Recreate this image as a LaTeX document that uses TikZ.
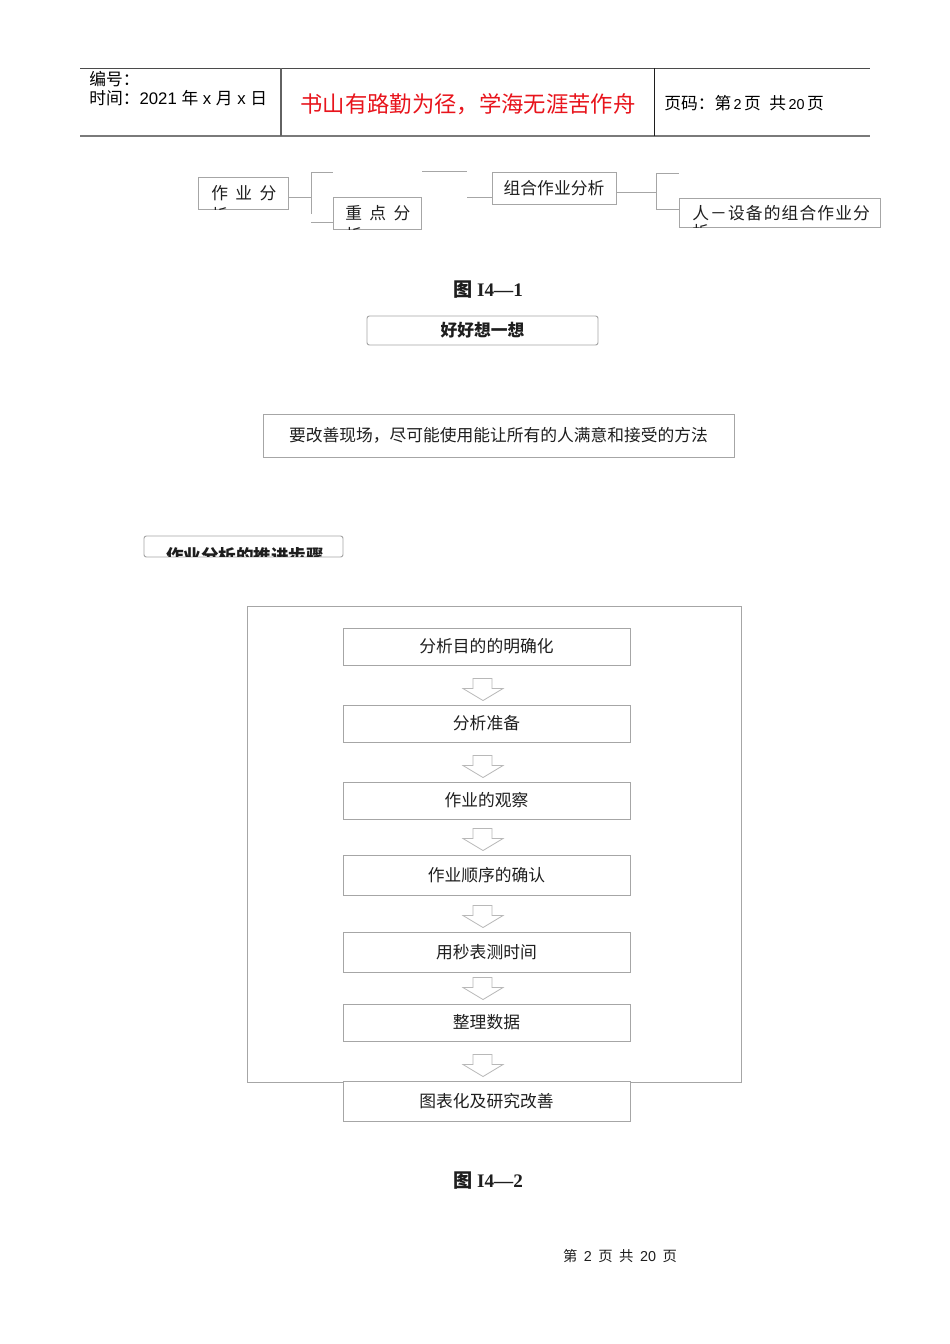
\documentclass[tikz,border=0pt]{standalone}
\usepackage{fontspec}
\setmainfont{Liberation Serif}
\setsansfont{Liberation Sans}
\newfontfamily\cjk{Noto Sans CJK SC}
\usetikzlibrary{calc,positioning}

\definecolor{framegray}{HTML}{A6A6A6}
\definecolor{arrowgray}{HTML}{B8B8B8}
\definecolor{mottored}{HTML}{E8141C}
\definecolor{inkgray}{HTML}{1E1E1E}
\definecolor{rulegray}{HTML}{7A7A7A}

% one pixel of the page, in pt
\newcommand{\pw}[1]{#1*0.6266pt}
\newcommand{\hz}[1]{{\cjk #1}}
\newcommand{\tg}{\hspace{0.7pt}}

\tikzset{
  stepbox/.style={draw=framegray, line width=0.6pt, minimum width=\pw{287}, inner sep=0pt,
    font=\cjk\fontsize{10.5}{12}\selectfont, text=inkgray},
  treebox/.style={draw=framegray, line width=0.6pt, inner sep=0pt},
  treeline/.style={draw=framegray, line width=0.6pt},
  treetext/.style={anchor=west, inner sep=0pt, font=\cjk\fontsize{10.5}{12}\selectfont, text=inkgray},
  notebox/.style={draw=framegray, line width=0.6pt, rounded corners=1.5pt, inner sep=0pt,
    font=\cjk\bfseries\fontsize{10.5}{12}\selectfont, text=inkgray},
  figcap/.style={font=\bfseries\fontsize{12}{14}\selectfont, text=inkgray},
  hollow/.style={draw=arrowgray, line width=0.5pt, fill=white},
}

% hollow arrow that points down onto node #1
\newcommand{\downto}[1]{%
  \draw[hollow] ($(#1.north)+(-13.5,-26)$) -- ++(19,0) -- ++(0,10) -- ++(11,0)
    -- ++(-20,12) -- ++(-20,-12) -- ++(10,0) -- cycle;}

\begin{document}
\begin{tikzpicture}[x=0.6266pt,y=-0.6266pt]
\path[fill=white,use as bounding box] (0,0) rectangle (950,1344);

% The header
\draw[color=inkgray!80, line width=0.6pt] (80,68) -- (870,68);
\draw[color=rulegray, line width=1.1pt] (80,136) -- (870,136);
\draw[color=rulegray!80!black, line width=0.8pt] (281,68) -- (281,136);
\draw[color=inkgray, line width=0.6pt] (654,68) -- (654,136);
\node[anchor=west, inner sep=0pt, font=\sffamily\fontsize{10.5}{12}\selectfont] (hnum) at (89,79) {\hz{编号：}};
\node[anchor=west, inner sep=0pt, font=\sffamily\fontsize{10.5}{12}\selectfont] (htime) at (89,98)
  {\hz{时间：}2021 \hz{年} x \hz{月} x \hz{日}};
\node[font=\cjk\fontsize{14}{16}\selectfont, text=mottored] (motto) at (468,104) {书山有路勤为径，学海无涯苦作舟};
\node[anchor=west, inner sep=0pt, font=\sffamily\fontsize{9}{11}\selectfont] (hpage) at (664,103)
  {{\cjk\fontsize{10.5}{12}\selectfont 页码：第}\,2\,{\cjk\fontsize{10.5}{12}\selectfont 页}\hspace{0.6em}{\cjk\fontsize{10.5}{12}\selectfont 共}\,20\,{\cjk\fontsize{10.5}{12}\selectfont 页}};

% The tree of fig. I4-1
\node[treebox, minimum width=\pw{90}, minimum height=\pw{32}] (taskbox) at (243,193) {};
\node[treebox, minimum width=\pw{88}, minimum height=\pw{32}] (keybox) at (377,213) {};
\node[treebox, minimum width=\pw{124}, minimum height=\pw{32}, font=\cjk\fontsize{10.5}{12}\selectfont, text=inkgray] (combobox) at (554,188) {组合作业分析};
\node[treebox, minimum width=\pw{201}, minimum height=\pw{29}] (mmbox) at (779.5,212.5) {};

\begin{scope}
\clip (taskbox.north west) rectangle (taskbox.south east);
\node[treetext] (tasktext) at (211,193) {作\hspace{0.44em}业\hspace{0.44em}分};
\node[treetext] (tasktail) at (211,215) {析};
\end{scope}
\begin{scope}
\clip (keybox.north west) rectangle (keybox.south east);
\node[treetext] (keytext) at (345,213) {重\hspace{0.44em}点\hspace{0.44em}分};
\node[treetext] (keytail) at (345,235) {析};
\end{scope}
\begin{scope}
\clip (mmbox.north west) rectangle (mmbox.south east);
\node[treetext] (mmtext) at (692,213) {人\tg －\tg 设\tg 备\tg 的\tg 组\tg 合\tg 作\tg 业\tg 分};
\node[treetext] (mmtail) at (692,232) {析};
\end{scope}

\draw[treeline] ($(taskbox.east)+(0,4)$) -- (311,197);
\draw[treeline] (311,172) -- (311,214);
\draw[treeline] (311,172) -- (333,172);
\draw[treeline] (311,222) -- (keybox.west |- 0,222);
\draw[treeline] (422,171) -- (467,171);
\draw[treeline] (467,197) -- (combobox.west |- 0,197);
\draw[treeline] ($(combobox.east)+(0,4)$) -- (656,192);
\draw[treeline] (656,173) -- (656,209);
\draw[treeline] (656,173) -- (679,173);
\draw[treeline] (656,209) -- (mmbox.west |- 0,209);

\node[figcap] (cap1) at (488,290) {\hz{图} I4—1};

% The notes
\node[notebox, minimum width=\pw{231}, minimum height=\pw{29}] (think) at (482.5,330.5) {好好想一想};
\node[stepbox, minimum width=\pw{471}, minimum height=\pw{43}] (advice) at (498.5,435.5) {要改善现场，尽可能使用能让所有的人满意和接受的方法};

\node[notebox, minimum width=\pw{199}, minimum height=\pw{21}] (stephead) at (243.5,546.5) {};
\begin{scope}
\clip[rounded corners=1.5pt] (stephead.north west) rectangle ($(stephead.south east)+(0,-1)$);
\node[font=\cjk\bfseries\fontsize{11}{13}\selectfont, text=inkgray, inner sep=0pt] (stepheadtext) at (245,556) {作业分析的推进步骤};
\end{scope}

% The steps of fig. I4-2
\draw[framegray, line width=0.6pt] (247,606) rectangle (741,1082);
\node[stepbox, minimum height=\pw{37}] (s1) at (486.5,646.5) {分析目的的明确化};
\node[stepbox, minimum height=\pw{37}] (s2) at (486.5,723.5) {分析准备};
\node[stepbox, minimum height=\pw{37}] (s3) at (486.5,800.5) {作业的观察};
\node[stepbox, minimum height=\pw{40}] (s4) at (486.5,875) {作业顺序的确认};
\node[stepbox, minimum height=\pw{40}] (s5) at (486.5,952) {用秒表测时间};
\node[stepbox, minimum height=\pw{37}] (s6) at (486.5,1022.5) {整理数据};
\node[stepbox, minimum height=\pw{40}, fill=white] (s7) at (486.5,1101) {图表化及研究改善};

\foreach \n in {s2,s3,s4,s5,s6,s7} {\downto{\n}}

\node[figcap] (cap2) at (488,1181) {\hz{图} I4—2};

% The footer
\node[font=\sffamily\fontsize{9}{11}\selectfont, text=inkgray] (foot) at (620,1256)
  {\hz{第}\hspace{0.45em}2\hspace{0.45em}\hz{页}\hspace{0.45em}\hz{共}\hspace{0.45em}20\hspace{0.45em}\hz{页}};
\end{tikzpicture}
\end{document}
